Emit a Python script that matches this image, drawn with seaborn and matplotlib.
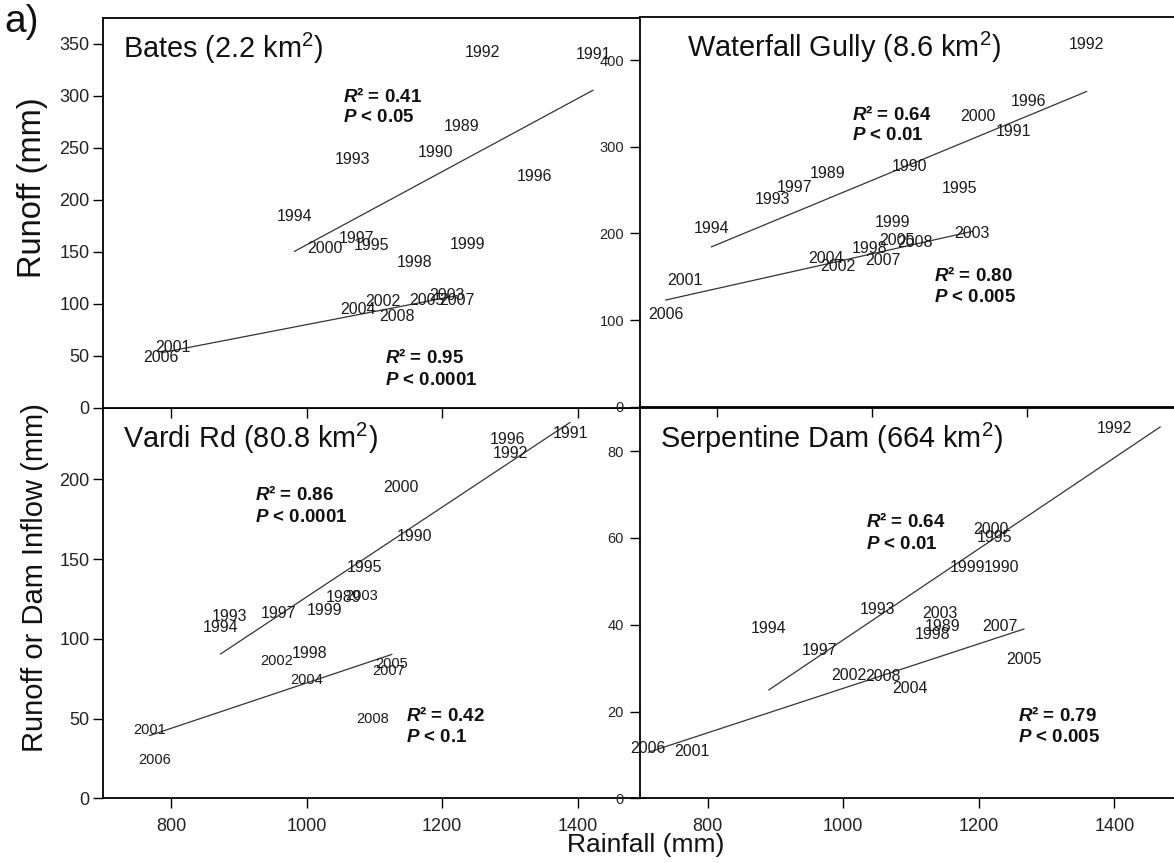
import numpy as np
import matplotlib
matplotlib.use("Agg")
import matplotlib.pyplot as plt
import seaborn as sns

# ---------------- data ----------------
YEARS = list(range(1989, 2009))

BATES_RAIN = [1229, 1190, 1423, 1260, 1068, 982, 1096, 1336, 1074, 1160, 1237, 1027,
              803, 1112, 1207, 1076, 1178, 785, 1222, 1134]
BATES_RUNOFF = [270, 245, 340, 342, 239, 184, 156, 222, 163, 140, 157, 153,
                58, 102, 108, 94, 103, 48, 103, 88]

WATERFALL_RAIN = [942, 1048, 1182, 1277, 871, 792, 1112, 1202, 899, 997, 1026, 1137,
                  758, 955, 1129, 940, 1032, 733, 1014, 1055]
WATERFALL_RUNOFF = [269, 277, 318, 418, 239, 206, 252, 352, 253, 183, 213, 335,
                    146, 162, 200, 171, 192, 106, 169, 189]

VARDI_RAIN = [1054, 1160, 1389, 1301, 886, 873, 1086, 1297, 959, 1004, 1027, 1139,
              768, 956, 1081, 1000, 1126, 776, 1121, 1097]
VARDI_RUNOFF = [126, 164, 229, 216, 114, 107, 145, 225, 116, 91, 118, 195,
                43, 86, 127, 74, 84, 24, 80, 50]

# 1991 lies above the plotted range (only its fit line end is visible); 1996 not shown
SERP_RAIN = [1147, 1233, 1468, 1400, 1051, 890, 1223, np.nan, 965, 1132, 1183, 1218,
             777, 1008, 1143, 1098, 1267, 712, 1231, 1058]
SERP_INFLOW = [39.6, 53.2, 94, 85.2, 43.5, 39.2, 60.2, np.nan, 34.1, 37.7, 53.2, 61.9,
               10.8, 28.2, 42.5, 25.2, 31.9, 11.5, 39.6, 28.1]

TITLES = ["Bates (2.2 km$^2$)", "Waterfall Gully (8.6 km$^2$)",
          "Vardi Rd (80.8 km$^2$)", "Serpentine Dam (664 km$^2$)"]
STATS_EARLY = [("0.41", "0.05"), ("0.64", "0.01"), ("0.86", "0.0001"), ("0.64", "0.01")]
STATS_LATE = [("0.95", "0.0001"), ("0.80", "0.005"), ("0.42", "0.1"), ("0.79", "0.005")]
SPLIT_YEAR = 2000

# ---------------- style ----------------
sns.set_theme(style="ticks")
plt.rcParams['font.family'] = ['Liberation Sans', 'DejaVu Sans']
plt.rcParams['mathtext.fontset'] = 'custom'
plt.rcParams['mathtext.rm'] = 'Liberation Sans'
plt.rcParams['mathtext.it'] = 'Liberation Sans:italic'
plt.rcParams['mathtext.bf'] = 'Liberation Sans:bold'
plt.rcParams['mathtext.bfit'] = 'Liberation Sans:bold:italic'
plt.rcParams['mathtext.default'] = 'regular'

W, H = 1174, 863
fig = plt.figure(figsize=(W / 100, H / 100), dpi=100)
fig.patch.set_facecolor('white')


def rect(x0, y0, x1, y1):
    return [x0 / W, 1 - y1 / H, (x1 - x0) / W, (y1 - y0) / H]


panels = [
    # order of drawing: Vardi, Bates, Serpentine, Waterfall
    dict(idx=2, rain=VARDI_RAIN, run=VARDI_RUNOFF, rect=rect(103.3, 407.7, 645.3, 798.3),
         xlim=(700, 1500), ylim=(0, 245), yticks=np.arange(0, 201, 50), xlab=True,
         tfs=13, ypad=3, early=(0.279, 0.778, 0.719), late=(0.5585, 0.213, 0.156),
         lfs_late=10.5, tx=0.0369),
    dict(idx=0, rain=BATES_RAIN, run=BATES_RUNOFF, rect=rect(103.3, 17.7, 645.3, 407.7),
         xlim=(700, 1500), ylim=(0, 375), yticks=np.arange(0, 351, 50), xlab=False,
         tfs=13, ypad=3, early=(0.443, 0.799, 0.744), late=(0.52, 0.128, 0.071),
         lfs_late=11.5, tx=0.0369),
    dict(idx=3, rain=SERP_RAIN, run=SERP_INFLOW, rect=rect(640, 407.7, 1182, 798.3),
         xlim=(700, 1500), ylim=(0, 90), yticks=np.arange(0, 81, 20), xlab=True,
         tfs=10.5, ypad=4.5, early=(0.417, 0.708, 0.650), late=(0.697, 0.213, 0.156),
         lfs_late=11.5, tx=0.0369),
    dict(idx=1, rain=WATERFALL_RAIN, run=WATERFALL_RUNOFF, rect=rect(640, 16.7, 1182, 406.7),
         xlim=(700, 1400), ylim=(0, 450), yticks=np.arange(0, 401, 100), xlab=False,
         tfs=10.5, ypad=4.5, early=(0.3905, 0.75, 0.695), late=(0.543, 0.336, 0.2795),
         lfs_late=11.5, tx=0.086),
]

for p in panels:
    ax = fig.add_axes(p['rect'])
    ax.set_facecolor('white')
    yrs = np.array(YEARS)
    x = np.array(p['rain'], dtype=float)
    y = np.array(p['run'], dtype=float)
    early = yrs <= SPLIT_YEAR
    for m in (early, ~early):
        sns.regplot(x=x[m], y=y[m], ax=ax, scatter=False, ci=None, truncate=True,
                    line_kws=dict(color='#333333', lw=0.9))
    for yr, xi, yi in zip(yrs, x, y):
        if np.isnan(xi) or not (p['ylim'][0] <= yi <= p['ylim'][1]):
            continue
        fs = 11.5 if yr <= SPLIT_YEAR else p['lfs_late']
        ax.text(xi, yi, str(yr), ha='center', va='center', fontsize=fs,
                color='#1a1a1a', clip_on=False, zorder=3)
    ax.set_xlim(*p['xlim'])
    ax.set_ylim(*p['ylim'])
    ax.set_xticks([800, 1000, 1200, 1400])
    ax.set_yticks(p['yticks'])
    ax.set_xlabel('')
    ax.set_ylabel('')
    ax.tick_params(axis='both', direction='out', length=7, width=1, color='black')
    ax.tick_params(axis='y', labelsize=p['tfs'], pad=p['ypad'], labelcolor='#222222')
    ax.tick_params(axis='x', labelsize=13, pad=7, labelbottom=p['xlab'], labelcolor='#222222')
    for s in ax.spines.values():
        s.set_visible(True)
        s.set_color('black')
        s.set_linewidth(1.3)
    i = p['idx']
    ax.text(p['tx'], 0.922, TITLES[i], transform=ax.transAxes,
            ha='left', va='center', fontsize=20.8, color='#111111')
    ex, ey1, ey2 = p['early']
    lx, ly1, ly2 = p['late']
    r2e, pe = STATS_EARLY[i]
    r2l, pl = STATS_LATE[i]
    kw = dict(transform=ax.transAxes, ha='left', va='center', fontsize=13.5,
              fontweight='bold', color='#111111')
    ax.text(ex, ey1, "$\\mathbfit{R}$\u00b2 = " + r2e, **kw)
    ax.text(ex, ey2, "$\\mathbfit{P}$ < " + pe, **kw)
    ax.text(lx, ly1, "$\\mathbfit{R}$\u00b2 = " + r2l, **kw)
    ax.text(lx, ly2, "$\\mathbfit{P}$ < " + pl, **kw)

fig.text(0.004, 1 - 22 / H, "a)", fontsize=28, ha='left', va='center', color='#111111')
fig.text(33 / W, 1 - 188 / H, "Runoff (mm)", rotation=90, fontsize=23.5,
         ha='center', va='center', color='#111111')
fig.text(35 / W, 1 - 578 / H, "Runoff or Dam Inflow (mm)", rotation=90, fontsize=21,
         ha='center', va='center', color='#111111')
fig.text(646 / W, 1 - 845 / H, "Rainfall (mm)", fontsize=19, ha='center', va='center',
         color='#111111')

fig.savefig("out.png", dpi=100)
